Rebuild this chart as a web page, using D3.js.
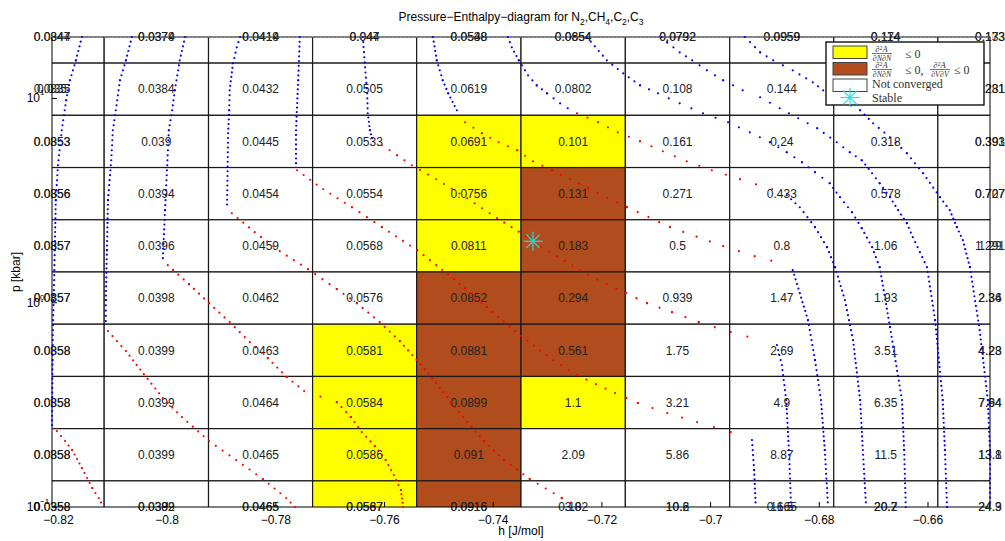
<!DOCTYPE html>
<html>
<meta charset="utf-8">
<style>
body { margin: 0; background: #fff; }
text { font-family: "Liberation Sans", Arial, sans-serif; }
.leg { font-family: "Liberation Serif", "Times New Roman", serif; fill: #333; }
</style>
<svg id="chart" width="1005" height="541"></svg>
<script src="https://d3js.org/d3.v7.min.js"></script>
<script>

// grid of the map: enthalpy (cell centres) and pressure (top row first)
var hGrid = [-0.8211, -0.8019, -0.7827, -0.7636, -0.7444, -0.7252, -0.7060, -0.6868, -0.6677, -0.6485];
var pGrid = [20, 11.10, 6.162, 3.420, 1.898, 1.054, 0.5848, 0.3246, 0.1802, 0.1];

var xTicks = [-0.82, -0.8, -0.78, -0.76, -0.74, -0.72, -0.7, -0.68, -0.66];
var yTicks = [0.1, 1, 10];
var yTickExp = ["\u22121", "0", "1"];

// value printed in every cell, row by row from the top
var cellText = [
  ["0.0844", "0.0374", "0.0414", "0.047", "0.0548", "0.0654", "0.0792", "0.0959", "0.114", "0.133"],
  ["0.035", "0.0384", "0.0432", "0.0505", "0.0619", "0.0802", "0.108", "0.144", "0.193", "0.231"],
  ["0.0353", "0.039", "0.0445", "0.0533", "0.0691", "0.101", "0.161", "0.24", "0.318", "0.393"],
  ["0.0356", "0.0394", "0.0454", "0.0554", "0.0756", "0.131", "0.271", "0.433", "0.578", "0.727"],
  ["0.0357", "0.0396", "0.0459", "0.0568", "0.0811", "0.183", "0.5", "0.8", "1.06", "1.29"],
  ["0.0357", "0.0398", "0.0462", "0.0576", "0.0852", "0.294", "0.939", "1.47", "1.93", "2.36"],
  ["0.0358", "0.0399", "0.0463", "0.0581", "0.0881", "0.561", "1.75", "2.69", "3.51", "4.23"],
  ["0.0358", "0.0399", "0.0464", "0.0584", "0.0899", "1.1", "3.21", "4.9", "6.35", "7.64"],
  ["0.0358", "0.0399", "0.0465", "0.0586", "0.091", "2.09", "5.86", "8.87", "11.5", "13.8"],
  ["0.0358", "0.0399", "0.0465", "0.0587", "0.0916", "3.8", "10.6", "16.5", "20.7", "24.3"]
];

// second labels printed over the border cells: [row, column, text]
var ghostText = [
  [0, 0, "0.0847"], [0, 1, "0.0379"], [0, 2, "0.0419"], [0, 3, "0.044"], [0, 4, "0.0538"],
  [0, 5, "0.0854"], [0, 6, "0.0792"], [0, 7, "0.0959"], [0, 8, "0.174"], [0, 9, "0.173"],
  [1, 0, "0.0835"], [2, 0, "0.0853"], [3, 0, "0.0856"], [4, 0, "0.0857"], [5, 0, "0.0857"],
  [6, 0, "0.0858"], [7, 0, "0.0858"], [8, 0, "0.0858"], [9, 0, "0.0358"],
  [1, 9, "0.281"], [2, 9, "0.391"], [3, 9, "0.707"], [4, 9, "1.291"], [5, 9, "2.34"],
  [6, 9, "4.28"], [7, 9, "7.94"], [8, 9, "13.1"], [9, 9, "24.9"],
  [9, 1, "0.0382"], [9, 2, "0.0465"], [9, 3, "0.0567"], [9, 4, "0.0916"], [9, 5, "0.102"],
  [9, 6, "10.2"], [9, 7, "0.165"], [9, 8, "20.2"]
];

// 0 = nothing, 1 = d2A/dNdN <= 0, 2 = also d2A/dVdV <= 0
var cellState = [
  [0, 0, 0, 0, 0, 0, 0, 0, 0, 0],
  [0, 0, 0, 0, 0, 0, 0, 0, 0, 0],
  [0, 0, 0, 0, 1, 1, 0, 0, 0, 0],
  [0, 0, 0, 0, 1, 2, 0, 0, 0, 0],
  [0, 0, 0, 0, 1, 2, 0, 0, 0, 0],
  [0, 0, 0, 0, 2, 2, 0, 0, 0, 0],
  [0, 0, 0, 1, 2, 2, 0, 0, 0, 0],
  [0, 0, 0, 1, 2, 1, 0, 0, 0, 0],
  [0, 0, 0, 1, 2, 0, 0, 0, 0, 0],
  [0, 0, 0, 1, 2, 0, 0, 0, 0, 0]
];

// isotherms: [h, p, stable]
var curveA = [[-0.8156, 20, 1], [-0.8167, 15.38, 1], [-0.8178, 12.28, 1], [-0.8185, 9.80, 1], [-0.8193, 6.99, 1],
  [-0.8200, 4.711, 1], [-0.8204, 3.177, 1], [-0.8206, 1.809, 1], [-0.8207, 1.290, 1], [-0.8209, 0.822, 1],
  [-0.8210, 0.524, 1], [-0.8211, 0.2519, 1],
  [-0.8202, 0.2353, 0], [-0.8187, 0.2103, 0], [-0.8174, 0.1901, 0], [-0.8156, 0.1552, 0], [-0.8137, 0.1239, 0],
  [-0.8125, 0.1107, 0], [-0.8117, 0.1, 0]];
var curveB = [[-0.8064, 20, 1], [-0.8075, 15.38, 1], [-0.8086, 12.28, 1], [-0.8091, 9.80, 1], [-0.8099, 6.99, 1],
  [-0.8102, 4.985, 1], [-0.8108, 3.177, 1], [-0.8110, 1.809, 1], [-0.8112, 1.030, 1], [-0.8112, 0.8128, 1],
  [-0.8108, 0.7264, 0], [-0.8075, 0.5797, 0], [-0.8042, 0.4472, 0], [-0.8007, 0.3414, 0], [-0.7972, 0.2756, 0],
  [-0.7922, 0.2103, 0], [-0.7872, 0.1698, 0], [-0.7823, 0.1371, 0], [-0.7780, 0.1107, 0], [-0.7764, 0.1, 0]];
var curveC = [[-0.7966, 20, 1], [-0.7976, 15.38, 1], [-0.7985, 10.97, 1], [-0.7990, 8.756, 1], [-0.7996, 6.99, 1],
  [-0.7999, 4.711, 1], [-0.8003, 2.838, 1], [-0.8007, 1.652, 1],
  [-0.7998, 1.528, 0], [-0.7959, 1.233, 0], [-0.7922, 0.9955, 0], [-0.7884, 0.8035, 0], [-0.7847, 0.6414, 0],
  [-0.7814, 0.5358, 0], [-0.7779, 0.4325, 0], [-0.7747, 0.3694, 0], [-0.7687, 0.3264, 0], [-0.7661, 0.2756, 0],
  [-0.7641, 0.2327, 0], [-0.7617, 0.1988, 0], [-0.7597, 0.1698, 0], [-0.7582, 0.1434, 0], [-0.7569, 0.1211, 0],
  [-0.7565, 0.1, 0]];
var curveD = [[-0.7865, 20, 1], [-0.7871, 17.8, 1], [-0.7878, 14.87, 1], [-0.7884, 10.97, 1], [-0.7885, 8.756, 1],
  [-0.7887, 6.756, 1], [-0.7889, 2.870, 1],
  [-0.7880, 2.743, 0], [-0.7838, 2.215, 0], [-0.7792, 1.788, 0], [-0.7740, 1.459, 0], [-0.7687, 1.166, 0],
  [-0.7650, 0.9955, 0], [-0.7608, 0.8035, 0], [-0.7571, 0.6487, 0], [-0.7525, 0.4732, 0], [-0.7484, 0.3452, 0],
  [-0.7447, 0.2606, 0], [-0.7416, 0.2103, 0], [-0.7379, 0.1698, 0], [-0.7332, 0.1371, 0], [-0.7273, 0.1107, 0],
  [-0.7240, 0.1, 0]];
var curveE = [[-0.7755, 20, 1], [-0.7758, 12.28, 1], [-0.7762, 6.99, 1], [-0.7762, 4.819, 1],
  [-0.7760, 4.454, 0], [-0.7712, 3.595, 0], [-0.7659, 2.935, 0], [-0.7604, 2.344, 0], [-0.7539, 1.809, 0],
  [-0.7504, 1.528, 0], [-0.7471, 1.305, 0], [-0.7411, 0.952, 0], [-0.7348, 0.6866, 0], [-0.7289, 0.524, 0],
  [-0.7245, 0.4421, 0], [-0.7175, 0.3611, 0], [-0.7133, 0.3227, 0], [-0.7079, 0.2884, 0], [-0.7024, 0.2606, 0],
  [-0.6962, 0.2327, 0], [-0.6936, 0.2225, 0],
  [-0.6923, 0.2127, 1], [-0.6919, 0.1517, 1], [-0.6916, 0.1, 1]];
var curveF = [[-0.7639, 20, 1], [-0.7635, 14.21, 1], [-0.7631, 10.60, 1], [-0.7630, 8.465, 1], [-0.7626, 6.99, 1],
  [-0.7620, 6.105, 1],
  [-0.7604, 5.902, 0], [-0.7576, 5.273, 0], [-0.7549, 4.711, 0], [-0.7504, 4.024, 0], [-0.7447, 3.248, 0],
  [-0.7392, 2.593, 0], [-0.7339, 2.117, 0], [-0.7311, 1.871, 0], [-0.7282, 1.690, 0], [-0.7225, 1.365, 0],
  [-0.7155, 1.114, 0], [-0.7116, 0.9955, 0], [-0.7070, 0.8995, 0], [-0.7021, 0.8035, 0], [-0.6962, 0.7182, 0],
  [-0.6901, 0.6487, 0],
  [-0.6877, 0.6202, 1], [-0.6868, 0.4952, 1], [-0.6860, 0.3338, 1], [-0.6855, 0.1901, 1], [-0.6851, 0.1, 1]];
var curveG = [[-0.7510, 20, 1], [-0.7503, 15.38, 1], [-0.7492, 12.28, 1], [-0.7482, 10.60, 1], [-0.7466, 8.756, 1],
  [-0.7451, 7.648, 0], [-0.7420, 6.756, 0], [-0.7389, 6.105, 0], [-0.7355, 5.58, 0], [-0.7326, 4.930, 0],
  [-0.7291, 4.454, 0], [-0.7225, 3.636, 0], [-0.7153, 2.935, 0], [-0.7074, 2.344, 0], [-0.6976, 1.892, 0],
  [-0.6918, 1.690, 0], [-0.6857, 1.528, 0],
  [-0.6848, 1.444, 1], [-0.6835, 1.114, 1], [-0.6820, 0.822, 1], [-0.6807, 0.524, 1], [-0.6796, 0.3338, 1],
  [-0.6789, 0.1901, 1], [-0.6783, 0.1, 1]];
var curveH = [[-0.7372, 20, 1], [-0.7365, 17.8, 1], [-0.7352, 15.38, 1], [-0.7335, 12.99, 1], [-0.7319, 11.60, 1],
  [-0.7300, 10.60, 1], [-0.7276, 9.473, 1], [-0.7262, 8.956, 1],
  [-0.7245, 8.465, 0], [-0.7206, 7.648, 0], [-0.7170, 6.832, 0], [-0.7129, 6.174, 0], [-0.7087, 5.517, 0],
  [-0.7043, 4.930, 0], [-0.6997, 4.454, 0], [-0.6945, 4.024, 0], [-0.6886, 3.595, 0],
  [-0.6859, 3.360, 1], [-0.6835, 2.935, 1], [-0.6807, 2.344, 1], [-0.6785, 1.871, 1], [-0.6770, 1.494, 1],
  [-0.6752, 1.030, 1], [-0.6737, 0.656, 1], [-0.6724, 0.3338, 1], [-0.6719, 0.1901, 1], [-0.6713, 0.1, 1]];
var curveI = [[-0.7227, 20, 1], [-0.7190, 15.38, 1], [-0.7160, 13.28, 1], [-0.7129, 11.60, 1], [-0.7096, 10.60, 1],
  [-0.7056, 9.473, 1], [-0.7013, 8.465, 1], [-0.6967, 7.648, 1], [-0.6927, 6.832, 1], [-0.6890, 6.105, 1],
  [-0.6859, 5.455, 1], [-0.6831, 4.874, 1], [-0.6807, 4.354, 1], [-0.6780, 3.846, 1], [-0.6761, 3.285, 1],
  [-0.6739, 2.774, 1], [-0.6721, 2.317, 1], [-0.6702, 1.871, 1], [-0.6688, 1.494, 1], [-0.6669, 0.7597, 1],
  [-0.6647, 0.3338, 1], [-0.6643, 0.1901, 1], [-0.6640, 0.1, 1]];
var curveJ = [[-0.7089, 20, 1], [-0.7079, 18.84, 1], [-0.7056, 16.83, 1], [-0.7033, 15.38, 1], [-0.7006, 13.74, 1],
  [-0.6976, 12.28, 1], [-0.6940, 10.97, 1], [-0.6908, 10.14, 1], [-0.6872, 8.956, 1], [-0.6838, 8.001, 1],
  [-0.6803, 7.149, 1], [-0.6767, 6.105, 1], [-0.6743, 5.455, 1], [-0.6721, 4.985, 1], [-0.6702, 4.305, 1],
  [-0.6688, 3.846, 1], [-0.6669, 3.285, 1], [-0.6654, 2.838, 1], [-0.6638, 2.452, 1], [-0.6627, 2.093, 1],
  [-0.6614, 1.768, 1], [-0.6601, 1.494, 1], [-0.6586, 0.822, 1], [-0.6572, 0.3338, 1], [-0.6568, 0.1901, 1],
  [-0.6564, 0.1, 1]];
var curveK = [[-0.6936, 20, 1], [-0.6908, 16.83, 1], [-0.6884, 15.38, 1], [-0.6848, 13.74, 1], [-0.6811, 12.0, 1],
  [-0.6792, 10.97, 1], [-0.6724, 8.756, 1], [-0.6700, 7.562, 1], [-0.6669, 6.46, 1], [-0.6638, 5.394, 1],
  [-0.6608, 4.305, 1], [-0.6577, 3.285, 1], [-0.6559, 2.838, 1], [-0.6546, 2.344, 1], [-0.6535, 2.024, 1],
  [-0.6522, 1.494, 1], [-0.6504, 0.734, 1], [-0.6489, 0.3338, 1], [-0.6485, 0.1901, 1], [-0.6485, 0.1, 1]];

var stablePoints = [[-0.7326, 2.001]];

var svg = d3.select("#chart"),
    margin = {top: 37, right: 15, bottom: 34, left: 52},
    width = 1005 - margin.left - margin.right,
    height = 541 - margin.top - margin.bottom;

var x = d3.scaleLinear().domain([hGrid[0], hGrid[hGrid.length - 1]]).range([margin.left, margin.left + width]);
var y = d3.scaleLog().domain([0.1, 20]).range([margin.top + height, margin.top]);

var fills = ["#ffffff", "#ffff00", "#b14c1c"];

svg.append("clipPath").attr("id", "plotclip")
  .append("rect").attr("x", x.range()[0]).attr("y", y.range()[1])
  .attr("width", width).attr("height", height);

var plot = svg.append("g").attr("clip-path", "url(#plotclip)");

// cell edges half way between the centres
function edges(centres) {
  var e = [];
  for (var i = 0; i <= centres.length; i++) {
    if (i === 0) e.push(centres[0] - (centres[1] - centres[0]) / 2);
    else if (i === centres.length) e.push(centres[i - 1] + (centres[i - 1] - centres[i - 2]) / 2);
    else e.push((centres[i - 1] + centres[i]) / 2);
  }
  return e;
}
var xe = edges(hGrid.map(x)), ye = edges(pGrid.map(y));

var cells = [];
cellState.forEach(function(row, j) {
  row.forEach(function(s, i) { cells.push({i: i, j: j, s: s, t: cellText[j][i]}); });
});

plot.selectAll("rect.cell")
  .data(cells)
  .enter().append("rect")
    .attr("class", "cell")
    .attr("x", function(d) { return xe[d.i]; })
    .attr("y", function(d) { return ye[d.j]; })
    .attr("width", function(d) { return xe[d.i + 1] - xe[d.i]; })
    .attr("height", function(d) { return ye[d.j + 1] - ye[d.j]; })
    .attr("fill", function(d) { return fills[d.s]; })
    .attr("stroke", "#1a1a1a")
    .attr("stroke-width", 1.2);

var labels = cells.map(function(d) { return {i: d.i, j: d.j, t: d.t}; })
  .concat(ghostText.map(function(g) { return {i: g[1], j: g[0], t: g[2]}; }));

svg.selectAll("text.val")
  .data(labels)
  .enter().append("text")
    .attr("class", "val")
    .attr("x", function(d) { return x(hGrid[d.i]); })
    .attr("y", function(d) { return y(pGrid[d.j]); })
    .attr("dy", "0.35em")
    .attr("text-anchor", "middle")
    .attr("fill", "#222")
    .style("font-size", "12px")
    .text(function(d) { return d.t; });

// box
svg.append("rect")
  .attr("x", x.range()[0]).attr("y", y.range()[1])
  .attr("width", width).attr("height", height)
  .attr("fill", "none").attr("stroke", "#000").attr("stroke-width", 1);

svg.append("line")
  .attr("x1", x.range()[0]).attr("x2", x.range()[1] + 3)
  .attr("y1", y.range()[1]).attr("y2", y.range()[1])
  .attr("stroke", "#999").attr("stroke-width", 1.2)
  .attr("stroke-dasharray", "1.5 2.5");

// isotherms, one dot per pressure step
var dotStep = 4.75;
var line = d3.line().x(function(d) { return x(d[0]); }).y(function(d) { return y(d[1]); });
var gCurves = svg.append("g");
[curveA, curveB, curveC, curveD, curveE, curveF, curveG, curveH, curveI, curveJ, curveK].forEach(function(c) {
  for (var k = 0; k < c.length - 1; k++) {
    var a = c[k], b = c[k + 1];
    if (a[2] !== b[2]) continue;
    var dx = x(b[0]) - x(a[0]), dy = y(b[1]) - y(a[1]);
    var len = Math.sqrt(dx * dx + dy * dy);
    var n = Math.max(1, Math.round(Math.abs(dy) / dotStep));
    gCurves.append("path")
      .attr("d", line([a, b]))
      .attr("fill", "none")
      .attr("stroke", a[2] ? "#0000ff" : "#ff0000")
      .attr("stroke-width", 2.2)
      .attr("stroke-linecap", "round")
      .attr("stroke-dasharray", "0 " + (len / n).toFixed(2));
  }
});

function star(g, cx, cy, r, color) {
  var q = r * 0.72;
  [[-r, 0, r, 0], [0, -r, 0, r], [-q, -q, q, q], [-q, q, q, -q]].forEach(function(s) {
    g.append("line")
      .attr("x1", cx + s[0]).attr("y1", cy + s[1]).attr("x2", cx + s[2]).attr("y2", cy + s[3])
      .attr("stroke", color).attr("stroke-width", 1.2);
  });
}
stablePoints.forEach(function(d) { star(svg, x(d[0]), y(d[1]), 9.5, "#22dddd"); });

// axes
var xAxis = svg.append("g")
  .attr("transform", "translate(0," + y.range()[0] + ")")
  .call(d3.axisBottom(x).tickValues(xTicks).tickSizeInner(-5).tickSizeOuter(0).tickPadding(8)
    .tickFormat(d3.format("")));
xAxis.select(".domain").remove();
xAxis.selectAll("text").style("font-size", "12px").attr("fill", "#000");

var yAxis = svg.append("g").attr("transform", "translate(" + x.range()[0] + ",0)");
yTicks.forEach(function(t, i) {
  var yy = y(t);
  yAxis.append("line").attr("x1", 0).attr("x2", 5).attr("y1", yy).attr("y2", yy).attr("stroke", "#000");
  yAxis.append("text").attr("x", -12).attr("y", yy + 4).attr("text-anchor", "end")
    .style("font-size", "12px").text("10");
  yAxis.append("text").attr("x", -12).attr("y", yy - 3)
    .style("font-size", "8px").text(yTickExp[i]);
});

svg.append("text")
  .attr("x", x.range()[0] + width / 2).attr("y", 535)
  .attr("text-anchor", "middle").style("font-size", "12px").text("h [J/mol]");

svg.append("text")
  .attr("transform", "translate(20," + (y.range()[1] + height / 2) + ") rotate(-90)")
  .attr("text-anchor", "middle").style("font-size", "12px").text("p [kbar]");

var title = svg.append("text")
  .attr("x", x.range()[0] + width / 2).attr("y", 21)
  .attr("text-anchor", "middle").style("font-size", "12px");
[["Pressure\u2212Enthalpy\u2212diagram for N", 0], ["2", 1], [",CH", 0], ["4", 1], [",C", 0], ["2", 1], [",C", 0], ["3", 1]]
  .forEach(function(p) {
    var ts = title.append("tspan").text(p[0]);
    if (p[1]) ts.style("font-size", "8.5px").attr("dy", 4);
    else ts.attr("dy", title.selectAll("tspan").size() > 1 ? -4 : 0);
  });

// legend
var leg = svg.append("g");
leg.append("rect").attr("x", 826).attr("y", 42).attr("width", 158).attr("height", 63)
  .attr("fill", "#fff").attr("stroke", "#000").attr("stroke-width", 1.3);
[[1, 46], [2, 62.5], [0, 79]].forEach(function(s) {
  leg.append("rect").attr("x", 833).attr("y", s[1]).attr("width", 34).attr("height", 12.5)
    .attr("fill", fills[s[0]]).attr("stroke", "#444").attr("stroke-width", 1);
});
function frac(x0, yc, den) {
  leg.append("text").attr("class", "leg").attr("x", x0 + 9.5).attr("y", yc - 1.5).attr("text-anchor", "middle")
    .style("font-size", "8.5px").html("\u2202<tspan dy='-2.5' font-size='6px'>2</tspan><tspan dy='2.5' font-style='italic'>A</tspan>");
  leg.append("line").attr("x1", x0).attr("x2", x0 + 20).attr("y1", yc).attr("y2", yc)
    .attr("stroke", "#333").attr("stroke-width", 0.7);
  leg.append("text").attr("class", "leg").attr("x", x0 + 10).attr("y", yc + 7).attr("text-anchor", "middle")
    .style("font-size", "8px").style("font-style", "italic").text(den);
}
frac(872, 53.5, "\u2202N\u2202N");
leg.append("text").attr("class", "leg").attr("x", 905).attr("y", 58).style("font-size", "12px").text("\u2264 0");
frac(872, 69.5, "\u2202N\u2202N");
leg.append("text").attr("class", "leg").attr("x", 905).attr("y", 74).style("font-size", "12px").text("\u2264 0,");
frac(930, 69.5, "\u2202V\u2202V");
leg.append("text").attr("class", "leg").attr("x", 954).attr("y", 74).style("font-size", "12px").text("\u2264 0");
leg.append("text").attr("class", "leg").attr("x", 872).attr("y", 88).style("font-size", "12px").text("Not converged");
star(leg, 850, 97.5, 9.5, "#22dddd");
leg.append("text").attr("class", "leg").attr("x", 872).attr("y", 102).style("font-size", "12px").text("Stable");

</script>
</html>
